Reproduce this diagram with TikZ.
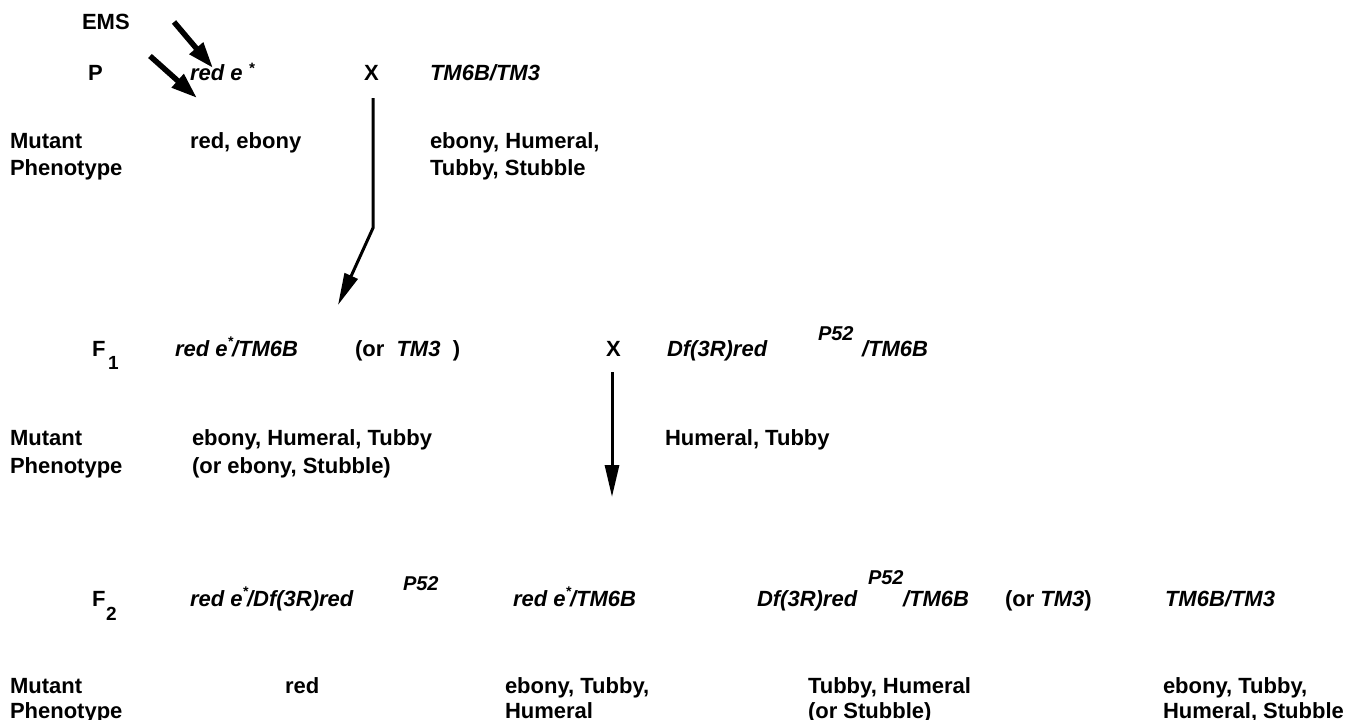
\documentclass[tikz,border=0pt]{standalone}
\usepackage{fontspec}
\setmainfont{Liberation Sans}
\usetikzlibrary{arrows.meta}
\begin{document}
\begin{tikzpicture}[x=1pt,y=-1pt,
  every node/.style={inner sep=0pt, outer sep=0pt, anchor=base west},
  txt/.style={font=\fontsize{22}{26}\selectfont\bfseries},
  gen/.style={font=\fontsize{22}{26}\selectfont\bfseries\itshape},
  sup/.style={font=\fontsize{20}{24}\selectfont\bfseries\itshape},
  sub/.style={font=\fontsize{19}{22}\selectfont\bfseries},
  emsarrow/.style={line width=5.5pt, -{Triangle[length=26pt,width=17pt]}},
  crossarrow/.style={line width=3pt, -{Triangle[length=32pt,width=14pt]}}]
\useasboundingbox (0,0) rectangle (1353,720);
\newcommand{\st}{\raisebox{7pt}{\fontsize{15}{15}\selectfont *}}
\newcommand{\sts}{\raisebox{10pt}{\fontsize{14}{14}\selectfont *}\kern-1pt}
% P generation
\node[txt] (ems) at (82,30) {EMS};
\node[txt] (P) at (88,80) {P};
\node[gen] (rede) at (190,80) {red e \st};
\node[txt] (xP) at (364,80) {X};
\node[gen] (tmP) at (430,80) {TM6B/TM3};
\node[txt] (mut1) at (10,148) {Mutant};
\node[txt] (phe1) at (10,175) {Phenotype};
\node[txt] (ph1a) at (190,148) {red, ebony};
\node[txt] (ph1b) at (430,148) {ebony, Humeral,};
\node[txt] (ph1c) at (430,175) {Tubby, Stubble};
\coordinate (e1s) at (174,22);
\coordinate (e1e) at (213,68);
\coordinate (e2s) at (150,56);
\coordinate (e2e) at (197,98);
\draw[emsarrow] (e1s) -- (e1e);
\draw[emsarrow] (e2s) -- (e2e);
\coordinate (c1s) at (373,98);
\coordinate (c1m) at (373,228);
\coordinate (c1e) at (338,305);
\draw[crossarrow] (c1s) -- (c1m) -- (c1e);
% F1 generation
\node[txt] (F1) at (92,356) {F};
\node[sub] (F1s) at (108,369) {1};
\node[gen] (f1a) at (175,356) {red e\sts/TM6B};
\node[txt] (f1b) at (355,356) {(or \ \textit{TM3} \ )};
\node[txt] (xF1) at (606,356) {X};
\node[gen] (f1c) at (667,356) {Df(3R)red};
\node[sup] (f1d) at (818,340) {P52};
\node[gen] (f1e) at (862,356) {/TM6B};
\node[txt] (mut2) at (10,445) {Mutant};
\node[txt] (phe2) at (10,473) {Phenotype};
\node[txt] (ph2a) at (192,445) {ebony, Humeral, Tubby};
\node[txt] (ph2b) at (192,473) {(or ebony, Stubble)};
\node[txt] (ph2c) at (665,445) {Humeral, Tubby};
\coordinate (c2s) at (612,372);
\coordinate (c2e) at (612,497);
\draw[crossarrow] (c2s) -- (c2e);
% F2 generation
\node[txt] (F2) at (92,606) {F};
\node[sub] (F2s) at (106,620) {2};
\node[gen] (f2a) at (190,606) {red e\sts/Df(3R)red};
\node[sup] (f2b) at (403,590) {P52};
\node[gen] (f2c) at (513,606) {red e\sts/TM6B};
\node[gen] (f2d) at (757,606) {Df(3R)red};
\node[sup] (f2e) at (868,584) {P52};
\node[gen] (f2f) at (903,606) {/TM6B};
\node[txt] (f2g) at (1005,606) {(or \textit{TM3})};
\node[gen] (f2h) at (1165,606) {TM6B/TM3};
\node[txt] (mut3) at (10,693) {Mutant};
\node[txt] (phe3) at (10,718) {Phenotype};
\node[txt] (ph3a) at (285,693) {red};
\node[txt] (ph3b) at (505,693) {ebony, Tubby,};
\node[txt] (ph3c) at (505,718) {Humeral};
\node[txt] (ph3d) at (808,693) {Tubby, Humeral};
\node[txt] (ph3e) at (808,718) {(or Stubble)};
\node[txt] (ph3f) at (1163,693) {ebony, Tubby,};
\node[txt] (ph3g) at (1163,718) {Humeral, Stubble};
\end{tikzpicture}
\end{document}
